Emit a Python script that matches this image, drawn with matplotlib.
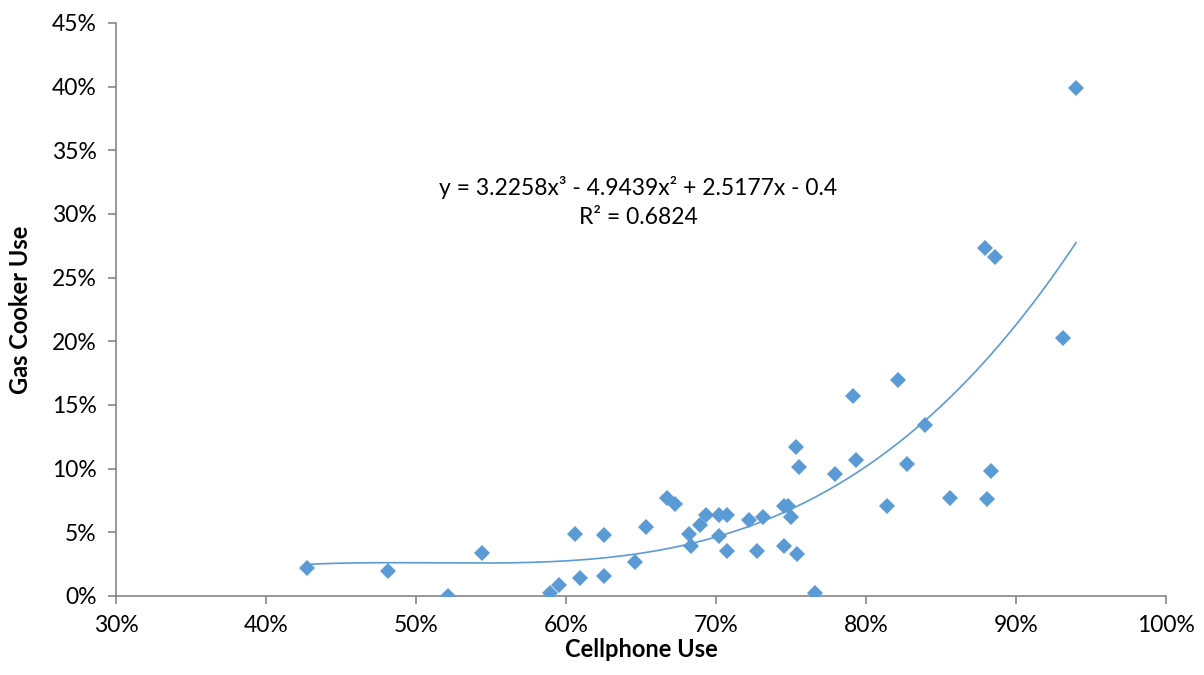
import numpy as np
import matplotlib.pyplot as plt
from matplotlib.ticker import PercentFormatter, MultipleLocator

plt.rcParams['font.family'] = ['Lato', 'DejaVu Sans']

# Cellphone use (%) and gas cooker use (%) per region
cellphone = [42.7, 48.1, 52.1, 54.4, 58.9, 59.5, 60.9, 60.6, 62.5, 62.5,
             64.6, 65.3, 66.7, 67.3, 68.2, 68.3, 68.9, 69.3, 70.2, 70.2,
             70.7, 70.7, 72.2, 72.7, 73.1, 74.5, 74.5, 74.8, 75.0, 75.3,
             75.4, 75.5, 76.6, 77.9, 79.1, 79.3, 81.4, 82.1, 82.7, 83.9,
             85.6, 87.9, 88.3, 88.1, 88.6, 93.1, 94.0]
gas_cooker = [2.2, 2.0, 0.0, 3.4, 0.2, 0.9, 1.4, 4.9, 4.8, 1.6,
              2.7, 5.4, 7.7, 7.2, 4.9, 3.9, 5.6, 6.4, 4.7, 6.4,
              6.4, 3.5, 6.0, 3.5, 6.2, 7.1, 3.9, 7.1, 6.2, 11.7,
              3.3, 10.1, 0.2, 9.6, 15.7, 10.7, 7.1, 17.0, 10.4, 13.4,
              7.7, 27.3, 9.8, 7.6, 26.6, 20.3, 39.9]

# Polynomial trendline coefficients shown on the chart (highest power first)
trend_coef = [3.2258, -4.9439, 2.5177, -0.4]
r_squared = 0.6824

blue = '#5B9BD5'
grey = '#868686'

x = np.array(cellphone) / 100
y = np.array(gas_cooker) / 100

fig = plt.figure(figsize=(12.04, 6.75), dpi=100)
ax = fig.add_axes([116 / 1204, 1 - 596 / 675, 1050 / 1204, 573 / 675])

ax.plot(x, y, linestyle='none', marker='D', markersize=8.2,
        color=blue, markeredgewidth=0, zorder=3)

xs = np.linspace(x.min(), x.max(), 300)
ax.plot(xs, np.polyval(trend_coef, xs), color=blue, lw=1.2, zorder=2)

ax.set_xlim(0.3, 1.0)
ax.set_ylim(0, 0.45)
ax.xaxis.set_major_locator(MultipleLocator(0.1))
ax.yaxis.set_major_locator(MultipleLocator(0.05))
ax.xaxis.set_major_formatter(PercentFormatter(xmax=1, decimals=0))
ax.yaxis.set_major_formatter(PercentFormatter(xmax=1, decimals=0))

for s in ('top', 'right'):
    ax.spines[s].set_visible(False)
for s in ('left', 'bottom'):
    ax.spines[s].set_color(grey)
    ax.spines[s].set_linewidth(1.2)
ax.tick_params(axis='both', colors=grey, length=6, width=1.2,
               labelsize=16.5, labelcolor='black', pad=8)

ax.set_xlabel('Cellphone Use', fontsize=17, fontweight='bold', labelpad=1)
ax.set_ylabel('Gas Cooker Use', fontsize=17, fontweight='bold', labelpad=14)

ax.text(0.648, 0.321, 'y = 3.2258x³ - 4.9439x² + 2.5177x - 0.4',
        ha='center', va='center', fontsize=16.5)
ax.text(0.648, 0.297, f'R² = {r_squared}', ha='center', va='center',
        fontsize=16.5)

fig.savefig('out.png', dpi=100)
